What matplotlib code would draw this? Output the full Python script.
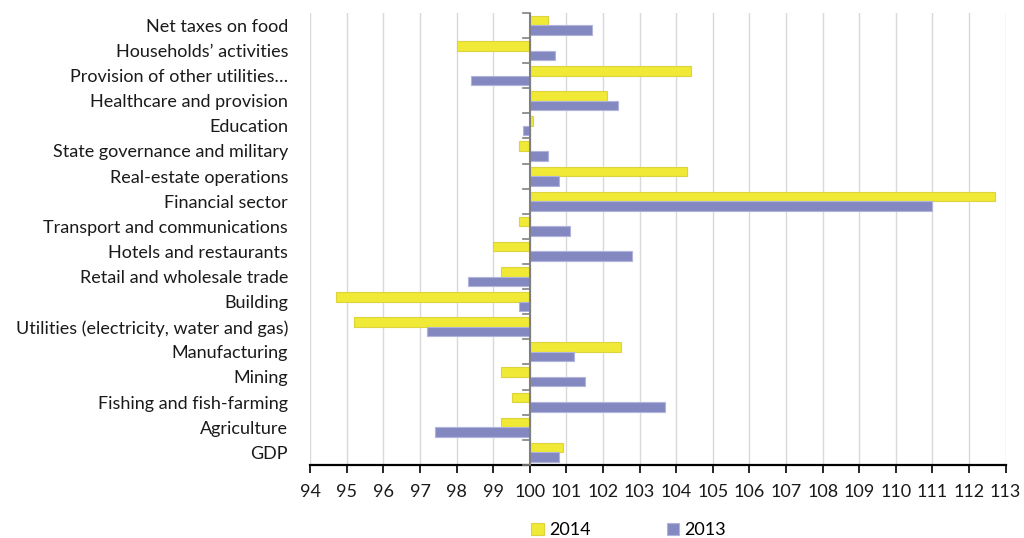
import matplotlib.pyplot as plt
import numpy as np

plt.rcParams['font.family'] = ['Lato', 'DejaVu Sans']

# Indices, previous year = 100, listed top to bottom
categories = [
    'Net taxes on food',
    'Households\u2019 activities',
    'Provision of other utilities\u2026',
    'Healthcare and provision',
    'Education',
    'State governance and military',
    'Real-estate operations',
    'Financial sector',
    'Transport and communications',
    'Hotels and restaurants',
    'Retail and wholesale trade',
    'Building',
    'Utilities (electricity, water and gas)',
    'Manufacturing',
    'Mining',
    'Fishing and fish-farming',
    'Agriculture',
    'GDP',
]
y2014 = [100.5, 98.0, 104.4, 102.1, 100.1, 99.7, 104.3, 112.7, 99.7, 99.0,
         99.2, 94.7, 95.2, 102.5, 99.2, 99.5, 99.2, 100.9]
y2013 = [101.7, 100.7, 98.4, 102.4, 99.8, 100.5, 100.8, 111.0, 101.1, 102.8,
         98.3, 99.7, 97.2, 101.2, 101.5, 103.7, 97.4, 100.8]

base = 100
yellow = '#f0e936'
purple = '#8389c0'
fs = 13

fig = plt.figure(figsize=(10.24, 5.38), dpi=100)
ax = fig.add_axes([0.303, 0.136, 0.679, 0.84])

n = len(categories)
pos = np.arange(n)[::-1]
h = 0.38
v14 = np.array(y2014) - base
v13 = np.array(y2013) - base
ax.barh(pos + h / 2, v14, height=h, left=base, color=yellow,
        edgecolor='#dcd43c', linewidth=0.8, label='2014', zorder=3)
ax.barh(pos - h / 2, v13, height=h, left=base, color=purple,
        edgecolor='#b0b4dc', linewidth=0.8, label='2013', zorder=3)

ax.set_xlim(94, 113)
ax.set_ylim(-0.5, n - 0.5)
ax.set_xticks(np.arange(94, 114))
ax.grid(axis='x', color='#d9d9d9', linewidth=1, zorder=0)
ax.set_axisbelow(True)

# category axis drawn at 100 with small boundary marks
ax.axvline(base, color='#808080', linewidth=1.5, zorder=4)
for b in np.arange(n + 1) - 0.5:
    ax.plot([base - 0.18, base], [b, b], color='#808080', linewidth=1.2,
            zorder=4, clip_on=False)

ax.set_yticks(pos)
ax.set_yticklabels(categories, fontsize=fs, color='#1a1a1a')
ax.tick_params(axis='y', length=0, pad=16)
ax.tick_params(axis='x', direction='out', length=6, width=1.2,
               color='black', labelsize=fs, pad=8, labelcolor='#1a1a1a')

for s in ['top', 'right', 'left']:
    ax.spines[s].set_visible(False)
ax.spines['bottom'].set_linewidth(1.6)
ax.spines['bottom'].set_color('black')

ax.legend(loc='center', bbox_to_anchor=(0.458, -0.145), ncol=2,
          frameon=False, fontsize=fs, handlelength=0.7, handleheight=0.7,
          columnspacing=4.2, handletextpad=0.3)

fig.savefig('out.png', dpi=100)
